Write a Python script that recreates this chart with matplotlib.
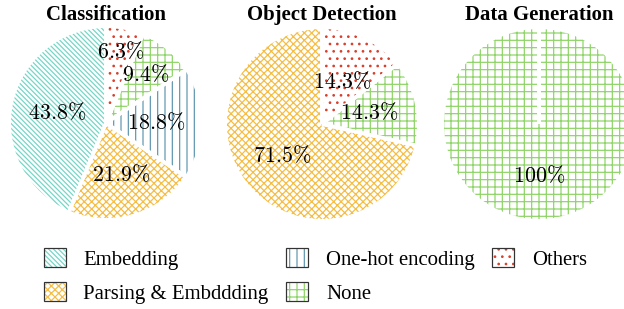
import numpy as np
import matplotlib
matplotlib.use('Agg')
import matplotlib.pyplot as plt
from matplotlib.patches import Patch
from matplotlib.legend_handler import HandlerTuple

plt.rcParams['font.family'] = 'Liberation Serif'
plt.rcParams['mathtext.fontset'] = 'cm'
plt.rcParams['hatch.linewidth'] = 1.0

# data
categories = ['Embedding', 'Parsing & Embddding', 'One-hot encoding', 'None', 'Others']
titles = ['Classification', 'Object Detection', 'Data Generation']
cls_labels = ['Embedding', 'Parsing & Embddding', 'One-hot encoding', 'None', 'Others']
cls_values = [43.8, 21.9, 18.8, 9.4, 6.3]
det_labels = ['Parsing & Embddding', 'None', 'Others']
det_values = [71.5, 14.3, 14.3]
gen_labels = ['None']
gen_values = [100]

colors = {'Embedding': '#72d6c6', 'Parsing & Embddding': '#f5bd45',
          'One-hot encoding': '#5f97b0', 'None': '#8fd468', 'Others': '#d9412c'}
hatches = {'Embedding': '\\\\\\\\\\\\', 'Parsing & Embddding': 'xxxx',
           'One-hot encoding': '||', 'None': '++', 'Others': '..'}

W, H, DPI = 624, 309, 88
fig = plt.figure(figsize=(W / DPI, H / DPI), dpi=DPI)

centers = [(106, 123), (322, 124), (539, 124)]
r = 95
pct_dist = [[0.53, 0.57, 0.53, 0.65, 0.76], [0.54, 0.51, 0.49], [0.55]]
pies = [(cls_labels, cls_values), (det_labels, det_values), (gen_labels, gen_values)]

for (labels, values), title, (cx, cy), dists in zip(pies, titles, centers, pct_dist):
    ax = fig.add_axes([(cx - r) / W, 1 - (cy + r) / H, 2 * r / W, 2 * r / H])
    wedges, _ = ax.pie(values, startangle=90, colors=['white'] * len(values),
                       wedgeprops=dict(linewidth=0))
    for w, lab, v, d in zip(wedges, labels, values, dists):
        w.set_edgecolor(colors[lab])
        w.set_hatch(hatches[lab])
        for t in (w.theta1, w.theta2):
            a = np.deg2rad(t)
            ax.plot([0, 1.05 * np.cos(a)], [0, 1.05 * np.sin(a)], color='white',
                    lw=3, solid_capstyle='butt')
        a = np.deg2rad((w.theta1 + w.theta2) / 2)
        ax.text(d * np.cos(a), d * np.sin(a), r'$%g\%%$' % v, ha='center', va='center',
                fontsize=18)
    ax.set_xlim(-1, 1)
    ax.set_ylim(-1, 1)
    ax.axis('off')
    fig.text(cx / W, 1 - 15 / H, title, ha='center', va='center', fontsize=17,
             fontweight='bold')

handles = []
for c in categories:
    handles.append((Patch(facecolor='white', edgecolor=colors[c], hatch=hatches[c], lw=0),
                    Patch(fill=False, edgecolor='#333333', lw=1)))

fig.legend(handles, categories, loc='upper left', bbox_to_anchor=(44 / W, 1 - 248 / H),
           ncol=3, frameon=False, fontsize=17, handlelength=1.05, handleheight=1.05,
           handletextpad=0.85, labelspacing=0.58, columnspacing=0.85, borderpad=0,
           borderaxespad=0, handler_map={tuple: HandlerTuple(ndivide=1, pad=0)})

fig.savefig('out.png', dpi=DPI)
